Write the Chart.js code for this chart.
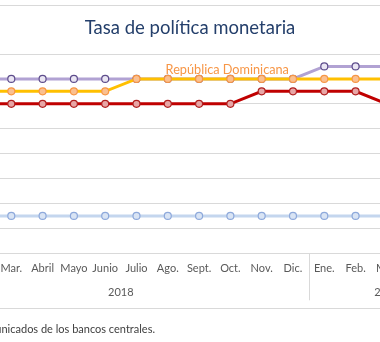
<!DOCTYPE html>
<html>
<head>
<meta charset="utf-8">
<script src="https://cdn.jsdelivr.net/npm/chart.js@4/dist/chart.umd.min.js"></script>
<style>
  html, body { margin:0; padding:0; background:#fff; overflow:hidden; }
  #wrap { position:relative; width:380px; height:342px; overflow:hidden; }
  #c { position:absolute; left:0; top:0; }
  #title { position:absolute; left:0; width:380px; top:16px; text-align:center;
           font-family:Lato, sans-serif; font-size:18.5px; color:#243F6B; white-space:nowrap; }
  #note { position:absolute; right:225px; top:322px; white-space:nowrap;
          font-family:Lato, sans-serif; font-size:11px; color:#404040; }
</style>
</head>
<body>
<div id="wrap">
  <canvas id="c" width="380" height="342"></canvas>
  <div id="title">Tasa de política monetaria</div>
  <div id="note">Fuente: comunicados de los bancos centrales.</div>
</div>
<script>
// ---- data (index 0 = Ene. 2018) ----
const months = ["Ene.","Feb.","Mar.","Abril","Mayo","Junio","Julio","Ago.","Sept.","Oct.","Nov.","Dic.","Ene.","Feb.","Mar.","Abril","Mayo"];
const years = ["2018","2019"];
const yearStart = [0, 12];
const yearEnd = [11, 16];
const republicaDominicana = [5.25,5.25,5.25,5.25,5.25,5.25,5.5,5.5,5.5,5.5,5.5,5.5,5.5,5.5,5.5];
const serieMorada = [5.5,5.5,5.5,5.5,5.5,5.5,5.5,5.5,5.5,5.5,5.5,5.5,5.75,5.75,5.75];
const serieRoja = [5.0,5.0,5.0,5.0,5.0,5.0,5.0,5.0,5.0,5.0,5.25,5.25,5.25,5.25,5.0];
const serieAzul = [2.75,2.75,2.75,2.75,2.75,2.75,2.75,2.75,2.75,2.75,2.75,2.75,2.75,2.75,2.75];
const yTicks = [2, 2.5, 3, 3.5, 4, 4.5, 5, 5.5, 6];

const pts = arr => arr.map((v, i) => ({ x: i, y: v }));

function ds(label, data, line, fill, border) {
  return {
    label, data: pts(data), borderColor: line, borderWidth: 3,
    pointRadius: 3.5, pointBackgroundColor: fill, pointBorderColor: border,
    pointBorderWidth: 1.2, pointHoverRadius: 3.5, tension: 0, fill: false
  };
}

const multiAxis = {
  id: 'multiAxis',
  afterDraw(chart) {
    const { ctx, scales: { x, y } } = chart;
    const bottom = y.getPixelForValue(yTicks[0]);
    ctx.save();
    ctx.strokeStyle = '#d9d9d9';
    ctx.lineWidth = 1;
    // frame lines
    ctx.beginPath(); ctx.moveTo(0, 5.5); ctx.lineTo(380, 5.5); ctx.stroke();
    ctx.beginPath(); ctx.moveTo(0, Math.round(bottom + 55) + 0.5); ctx.lineTo(380, Math.round(bottom + 55) + 0.5); ctx.stroke();
    // group separators
    yearStart.slice(1).forEach(s => {
      const px = Math.round(x.getPixelForValue(s - 0.5)) + 0.5;
      ctx.beginPath(); ctx.moveTo(px, bottom); ctx.lineTo(px, bottom + 47); ctx.stroke();
    });
    ctx.fillStyle = '#595959';
    ctx.font = '11px Lato, sans-serif';
    ctx.textAlign = 'center';
    ctx.textBaseline = 'middle';
    months.forEach((m, i) => ctx.fillText(m, x.getPixelForValue(i), bottom + 15));
    years.forEach((yr, k) => {
      const a = x.getPixelForValue(yearStart[k] - 0.5);
      const b = x.getPixelForValue(yearEnd[k] + 0.5);
      ctx.fillText(yr, (a + b) / 2, bottom + 39);
    });
    // series label
    ctx.fillStyle = '#F79646';
    ctx.font = '12.7px Lato, sans-serif';
    ctx.fillText('República Dominicana', x.getPixelForValue(8.9), y.getPixelForValue(5.5) - 9.5);
    ctx.restore();
  }
};

function draw() {
  new Chart(document.getElementById('c'), {
    type: 'line',
    data: {
      datasets: [
        ds('República Dominicana', republicaDominicana, '#FFC000', '#FAC090', '#F79646'),
        ds('Serie morada', serieMorada, '#B1A2D3', '#EAE6F3', '#5E4D8C'),
        ds('Serie roja', serieRoja, '#C00000', '#E8A6A6', '#B02020'),
        ds('Serie azul', serieAzul, '#C4D6EE', '#D9E4F4', '#8EA9DB')
      ]
    },
    options: {
      responsive: false,
      animation: false,
      devicePixelRatio: 1,
      layout: { autoPadding: false, padding: { top: 54, bottom: 88.7, left: 0, right: 0 } },
      plugins: { legend: { display: false }, tooltip: { enabled: false } },
      scales: {
        x: { type: 'linear', display: false, min: 1.639, max: 13.78 },
        y: {
          min: yTicks[0], max: yTicks[yTicks.length - 1],
          ticks: { display: false, stepSize: 0.5 },
          grid: { color: '#d9d9d9', lineWidth: 1, drawTicks: false },
          border: { display: false },
          afterFit: s => { s.width = 0; }
        }
      }
    },
    plugins: [multiAxis]
  });
}
if (document.fonts && document.fonts.load) {
  Promise.all([document.fonts.load('11px Lato'), document.fonts.load('12.7px Lato')]).then(draw, draw);
} else { draw(); }
</script>
</body>
</html>
